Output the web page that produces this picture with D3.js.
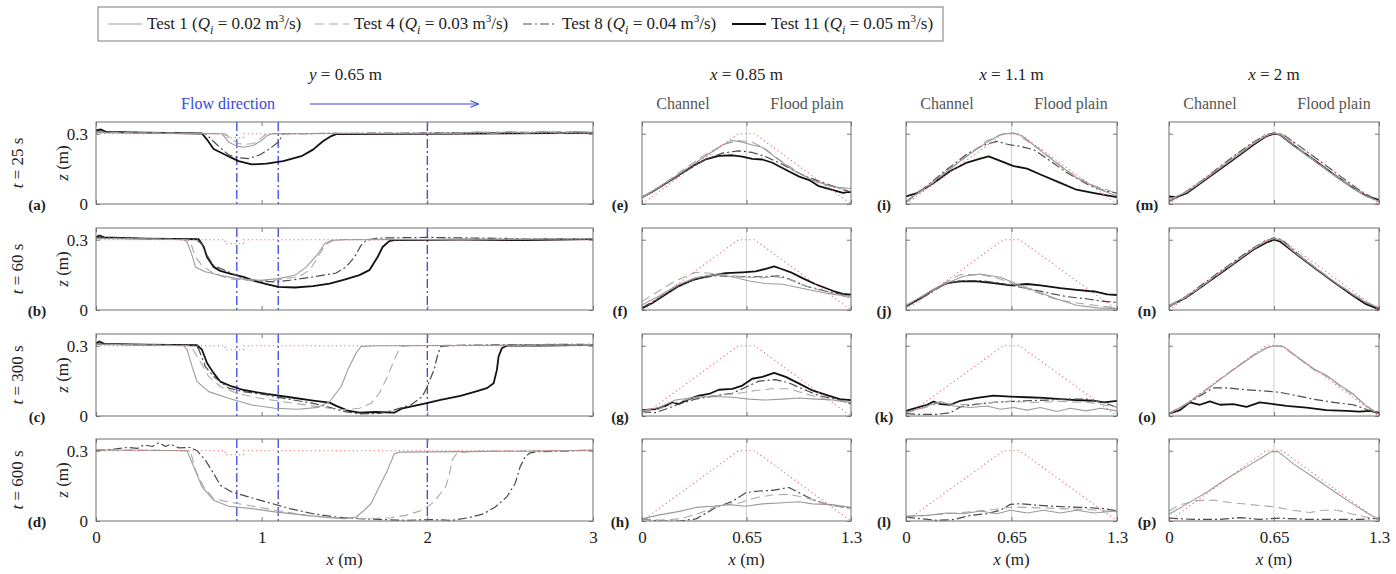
<!DOCTYPE html>
<html>
<head>
<meta charset="utf-8">
<script src="https://cdn.jsdelivr.net/npm/d3@7"></script>
<style>
body { margin: 0; background: #fff; }
text { font-family: "Liberation Serif", "Times New Roman", serif; }
</style>
</head>
<body>
<svg id="chart" width="1396" height="574"></svg>
<script>
// tests, times and sections
const testNames = ["Test 1", "Test 4", "Test 8", "Test 11"];
const testQ = [0.02, 0.03, 0.04, 0.05];
const times = [25, 60, 300, 600];
const sectionX = [0.85, 1.1, 2];
const longTicks = [0, 1, 2, 3];
const crossTicks = [0, 0.65, 1.3];
const zTicks = [0, 0.3];

// initial bed profiles
const initLong = [[0,0.3],[0.78,0.3],[0.78,0.283],[0.89,0.283],[0.89,0.3],[3,0.3]];
const initCross = [[0,0],[0.6,0.3],[0.7,0.3],[1.3,0]];

// longitudinal profiles, y = 0.65 m
const a_t1 = [[0,0.305],[0.1,0.303],[0.4,0.302],[0.76,0.3],[0.8,0.265],[0.85,0.247],[0.89,0.242],[0.95,0.25],[1.0,0.272],[1.03,0.29],[1.06,0.3],[1.5,0.301],[2.0,0.3],[2.2,0.302],[2.3,0.308],[2.4,0.301],[2.5,0.309],[2.6,0.302],[2.7,0.31],[2.8,0.302],[2.9,0.309],[3,0.306]];
const a_t4 = [[0,0.306],[0.4,0.303],[0.78,0.3],[0.82,0.275],[0.86,0.258],[0.9,0.254],[0.95,0.258],[0.99,0.278],[1.02,0.295],[1.05,0.3],[1.5,0.302],[2.2,0.303],[2.4,0.307],[2.6,0.305],[2.8,0.309],[3,0.306]];
const a_t8 = [[0,0.308],[0.3,0.304],[0.66,0.301],[0.69,0.28],[0.75,0.24],[0.8,0.21],[0.86,0.197],[0.92,0.194],[0.99,0.21],[1.04,0.232],[1.09,0.258],[1.11,0.275],[1.13,0.3],[1.6,0.302],[2.2,0.304],[2.6,0.306],[3,0.305]];
const a_t11 = [[0,0.314],[0.03,0.318],[0.06,0.308],[0.3,0.305],[0.64,0.301],[0.67,0.275],[0.71,0.235],[0.78,0.21],[0.82,0.197],[0.86,0.183],[0.94,0.169],[1.03,0.172],[1.13,0.183],[1.24,0.204],[1.31,0.232],[1.37,0.268],[1.42,0.29],[1.45,0.298],[2.0,0.299],[2.5,0.302],[3,0.304]];

const b_t1 = [[0,0.305],[0.3,0.303],[0.53,0.3],[0.55,0.29],[0.58,0.233],[0.6,0.184],[0.66,0.163],[0.75,0.148],[0.85,0.134],[0.99,0.127],[1.1,0.134],[1.2,0.148],[1.27,0.184],[1.34,0.24],[1.38,0.283],[1.42,0.297],[1.5,0.3],[2.0,0.301],[2.5,0.302],[3,0.304]];
const b_t4 = [[0,0.306],[0.3,0.303],[0.55,0.3],[0.57,0.29],[0.6,0.226],[0.64,0.19],[0.71,0.156],[0.8,0.134],[0.94,0.124],[1.08,0.127],[1.22,0.141],[1.29,0.17],[1.34,0.226],[1.38,0.276],[1.43,0.297],[1.5,0.301],[2.0,0.302],[3,0.305]];
const b_t8 = [[0,0.31],[0.3,0.305],[0.6,0.302],[0.64,0.283],[0.67,0.233],[0.71,0.19],[0.8,0.163],[0.89,0.134],[0.99,0.123],[1.08,0.12],[1.17,0.127],[1.31,0.141],[1.45,0.158],[1.51,0.184],[1.56,0.226],[1.6,0.276],[1.63,0.297],[1.7,0.307],[2.0,0.31],[2.3,0.307],[2.6,0.304],[3,0.305]];
const b_t11 = [[0,0.31],[0.02,0.318],[0.05,0.31],[0.3,0.305],[0.62,0.302],[0.65,0.27],[0.67,0.226],[0.71,0.184],[0.75,0.167],[0.82,0.153],[0.89,0.141],[0.96,0.123],[1.03,0.11],[1.1,0.099],[1.2,0.096],[1.31,0.102],[1.41,0.113],[1.5,0.13],[1.59,0.149],[1.65,0.17],[1.7,0.226],[1.73,0.269],[1.77,0.294],[1.8,0.298],[2.2,0.3],[2.6,0.298],[3,0.303]];

const c_t1 = [[0,0.305],[0.3,0.303],[0.53,0.3],[0.55,0.283],[0.58,0.211],[0.61,0.147],[0.68,0.104],[0.8,0.076],[0.94,0.047],[1.08,0.033],[1.22,0.029],[1.34,0.037],[1.41,0.061],[1.48,0.126],[1.52,0.197],[1.57,0.269],[1.6,0.297],[1.7,0.3],[2.2,0.301],[3,0.303]];
const c_t4 = [[0,0.306],[0.3,0.303],[0.56,0.3],[0.58,0.29],[0.64,0.219],[0.68,0.169],[0.75,0.126],[0.85,0.097],[0.99,0.076],[1.13,0.061],[1.27,0.047],[1.41,0.033],[1.5,0.026],[1.59,0.033],[1.66,0.054],[1.71,0.097],[1.76,0.169],[1.8,0.24],[1.84,0.297],[1.9,0.301],[2.5,0.302],[3,0.304]];
const c_t8 = [[0,0.308],[0.3,0.304],[0.6,0.302],[0.62,0.285],[0.66,0.211],[0.71,0.169],[0.8,0.119],[0.89,0.104],[1.03,0.09],[1.17,0.071],[1.31,0.054],[1.41,0.037],[1.5,0.019],[1.59,0.009],[1.71,0.011],[1.8,0.026],[1.9,0.047],[1.97,0.083],[2.0,0.126],[2.04,0.197],[2.06,0.254],[2.08,0.297],[2.2,0.302],[2.6,0.305],[3,0.306]];
const c_t11 = [[0,0.31],[0.02,0.318],[0.05,0.308],[0.3,0.305],[0.61,0.302],[0.64,0.283],[0.67,0.226],[0.71,0.183],[0.75,0.147],[0.82,0.126],[0.89,0.111],[1.03,0.094],[1.17,0.08],[1.31,0.066],[1.41,0.057],[1.45,0.043],[1.52,0.023],[1.59,0.014],[1.69,0.017],[1.8,0.014],[1.85,0.033],[1.92,0.043],[1.99,0.054],[2.08,0.069],[2.2,0.086],[2.29,0.104],[2.36,0.119],[2.4,0.14],[2.42,0.197],[2.43,0.254],[2.45,0.29],[2.48,0.3],[2.7,0.301],[3,0.304]];

const d_t1 = [[0,0.303],[0.3,0.302],[0.55,0.3],[0.59,0.231],[0.64,0.146],[0.71,0.089],[0.8,0.063],[0.94,0.053],[1.08,0.039],[1.27,0.024],[1.41,0.014],[1.5,0.01],[1.57,0.017],[1.62,0.046],[1.66,0.074],[1.71,0.146],[1.76,0.217],[1.8,0.286],[1.83,0.294],[2.2,0.296],[2.6,0.298],[3,0.302]];
const d_t4 = [[0,0.304],[0.3,0.302],[0.57,0.3],[0.6,0.217],[0.65,0.146],[0.71,0.096],[0.8,0.081],[0.92,0.067],[1.08,0.046],[1.27,0.024],[1.45,0.014],[1.64,0.01],[1.78,0.014],[1.87,0.024],[1.97,0.046],[2.04,0.081],[2.11,0.146],[2.13,0.189],[2.15,0.26],[2.18,0.291],[2.3,0.298],[2.6,0.299],[3,0.302]];
const d_t8 = [[0,0.3],[0.1,0.306],[0.19,0.314],[0.25,0.31],[0.29,0.325],[0.34,0.318],[0.38,0.334],[0.42,0.318],[0.45,0.328],[0.5,0.312],[0.57,0.314],[0.61,0.3],[0.66,0.26],[0.71,0.203],[0.75,0.153],[0.82,0.124],[0.92,0.103],[1.03,0.081],[1.17,0.053],[1.31,0.031],[1.45,0.017],[1.59,0.01],[1.73,0.006],[1.87,0.003],[2.01,0.006],[2.15,0.003],[2.25,0.014],[2.34,0.031],[2.41,0.06],[2.48,0.103],[2.53,0.16],[2.56,0.231],[2.59,0.274],[2.62,0.291],[2.67,0.296],[3,0.302]];

// cross sections, x = 0.85 m
const e_t1 = [[0,0.026],[0.146,0.088],[0.27,0.146],[0.395,0.205],[0.5,0.252],[0.562,0.271],[0.624,0.264],[0.686,0.252],[0.749,0.242],[0.832,0.198],[0.936,0.146],[1.06,0.102],[1.19,0.073],[1.3,0.066]];
const e_t4 = [[0,0.029],[0.146,0.091],[0.27,0.154],[0.395,0.212],[0.52,0.256],[0.6,0.271],[0.686,0.264],[0.77,0.234],[0.853,0.19],[0.978,0.132],[1.1,0.088],[1.23,0.066],[1.3,0.059]];
const e_t8 = [[0,0.026],[0.146,0.085],[0.27,0.139],[0.395,0.19],[0.5,0.217],[0.6,0.227],[0.686,0.22],[0.77,0.202],[0.853,0.176],[0.936,0.146],[1.02,0.117],[1.14,0.088],[1.23,0.066],[1.3,0.051]];
const e_t11 = [[0,0.029],[0.062,0.051],[0.146,0.088],[0.229,0.124],[0.312,0.161],[0.395,0.19],[0.478,0.205],[0.562,0.208],[0.624,0.202],[0.686,0.193],[0.749,0.19],[0.811,0.176],[0.894,0.146],[0.978,0.117],[1.04,0.102],[1.1,0.076],[1.19,0.059],[1.25,0.047],[1.28,0.051],[1.3,0.051]];

const f_t1 = [[0,0.022],[0.104,0.059],[0.208,0.102],[0.333,0.139],[0.458,0.151],[0.562,0.142],[0.666,0.124],[0.77,0.113],[0.874,0.11],[0.957,0.098],[1.06,0.083],[1.19,0.066],[1.3,0.059]];
const f_t4 = [[0,0.037],[0.104,0.081],[0.208,0.124],[0.333,0.161],[0.416,0.157],[0.52,0.151],[0.624,0.142],[0.728,0.136],[0.832,0.142],[0.915,0.132],[1.02,0.102],[1.14,0.078],[1.3,0.051]];
const f_t8 = [[0,0.01],[0.104,0.051],[0.208,0.095],[0.333,0.132],[0.458,0.146],[0.562,0.142],[0.666,0.142],[0.77,0.142],[0.853,0.146],[0.915,0.132],[1.02,0.102],[1.14,0.081],[1.3,0.059]];
const f_t11 = [[0,0.007],[0.062,0.029],[0.146,0.066],[0.229,0.102],[0.312,0.127],[0.416,0.146],[0.52,0.157],[0.624,0.161],[0.707,0.165],[0.77,0.176],[0.822,0.186],[0.864,0.176],[0.926,0.161],[0.998,0.136],[1.08,0.11],[1.19,0.081],[1.25,0.069],[1.3,0.066]];

const g_t1 = [[0,0.022],[0.104,0.036],[0.208,0.068],[0.333,0.08],[0.458,0.083],[0.562,0.08],[0.666,0.072],[0.77,0.068],[0.874,0.072],[0.978,0.077],[1.08,0.072],[1.19,0.068],[1.3,0.058]];
const g_t4 = [[0,0.022],[0.104,0.029],[0.208,0.058],[0.333,0.08],[0.458,0.087],[0.603,0.097],[0.707,0.109],[0.811,0.116],[0.915,0.116],[1.02,0.094],[1.14,0.072],[1.3,0.058]];
const g_t8 = [[0,0.019],[0.083,0.014],[0.146,0.029],[0.229,0.051],[0.333,0.072],[0.458,0.087],[0.562,0.097],[0.645,0.123],[0.728,0.149],[0.832,0.155],[0.915,0.141],[0.998,0.116],[1.1,0.087],[1.23,0.068],[1.3,0.051]];
const g_t11 = [[0,0.025],[0.083,0.029],[0.146,0.043],[0.187,0.058],[0.229,0.051],[0.291,0.072],[0.354,0.087],[0.416,0.094],[0.478,0.112],[0.562,0.116],[0.624,0.13],[0.686,0.159],[0.749,0.167],[0.822,0.184],[0.894,0.167],[0.978,0.138],[1.06,0.109],[1.14,0.091],[1.23,0.072],[1.3,0.068]];

const h_t1 = [[0,0.009],[0.109,0.026],[0.233,0.041],[0.336,0.058],[0.44,0.063],[0.543,0.07],[0.646,0.063],[0.749,0.073],[0.852,0.077],[0.976,0.082],[1.06,0.073],[1.18,0.07],[1.3,0.058]];
const h_t4 = [[0,0.009],[0.109,0.004],[0.233,0.009],[0.357,0.033],[0.48,0.067],[0.604,0.077],[0.708,0.099],[0.811,0.111],[0.914,0.114],[1.02,0.099],[1.14,0.073],[1.3,0.052]];
const h_t8 = [[0,0.009],[0.109,0],[0.233,0],[0.336,0.009],[0.398,0.033],[0.46,0.058],[0.563,0.084],[0.646,0.121],[0.728,0.128],[0.811,0.131],[0.914,0.143],[0.976,0.121],[1.06,0.092],[1.14,0.073],[1.22,0.063],[1.3,0.055]];

// cross sections, x = 1.1 m
const i_t1 = [[0,0.01],[0.13,0.075],[0.253,0.141],[0.376,0.206],[0.5,0.264],[0.58,0.296],[0.663,0.304],[0.725,0.286],[0.828,0.228],[0.951,0.162],[1.05,0.112],[1.16,0.075],[1.24,0.049],[1.3,0.035]];
const i_t4 = [[0,0.006],[0.13,0.072],[0.253,0.138],[0.376,0.204],[0.5,0.271],[0.6,0.3],[0.68,0.3],[0.828,0.232],[0.951,0.165],[1.05,0.115],[1.16,0.078],[1.3,0.046]];
const i_t8 = [[0,0.01],[0.13,0.078],[0.253,0.148],[0.376,0.213],[0.479,0.252],[0.56,0.267],[0.643,0.252],[0.705,0.246],[0.787,0.232],[0.889,0.184],[0.992,0.133],[1.12,0.083],[1.22,0.057],[1.3,0.046]];
const i_t11 = [[0,0.032],[0.068,0.046],[0.17,0.09],[0.273,0.141],[0.376,0.177],[0.458,0.194],[0.509,0.203],[0.581,0.184],[0.663,0.162],[0.746,0.151],[0.828,0.126],[0.951,0.09],[1.05,0.061],[1.16,0.046],[1.3,0.029]];

const j_t1 = [[0,0.02],[0.13,0.071],[0.253,0.115],[0.355,0.144],[0.458,0.154],[0.581,0.14],[0.684,0.111],[0.807,0.079],[0.93,0.047],[1.05,0.02],[1.18,0.009],[1.3,0.006]];
const j_t4 = [[0,0.02],[0.13,0.071],[0.253,0.122],[0.335,0.151],[0.458,0.151],[0.56,0.137],[0.663,0.111],[0.787,0.079],[0.91,0.049],[1.03,0.032],[1.16,0.02],[1.3,0.009]];
const j_t8 = [[0,0.013],[0.13,0.064],[0.232,0.108],[0.335,0.125],[0.458,0.125],[0.581,0.115],[0.684,0.1],[0.787,0.086],[0.889,0.071],[0.992,0.057],[1.12,0.047],[1.2,0.038],[1.3,0.032]];
const j_t11 = [[0,0.017],[0.088,0.049],[0.17,0.086],[0.253,0.115],[0.335,0.122],[0.437,0.122],[0.54,0.115],[0.643,0.105],[0.746,0.111],[0.828,0.105],[0.951,0.093],[1.05,0.086],[1.16,0.079],[1.24,0.067],[1.3,0.064]];

const k_t1 = [[0,0.014],[0.13,0.043],[0.212,0.062],[0.294,0.043],[0.396,0.036],[0.499,0.043],[0.581,0.029],[0.663,0.036],[0.746,0.025],[0.828,0.036],[0.93,0.019],[1.01,0.033],[1.11,0.022],[1.2,0.033],[1.3,0.022]];
const k_t4 = [[0,0.014],[0.13,0.039],[0.212,0.058],[0.314,0.048],[0.417,0.051],[0.54,0.058],[0.643,0.062],[0.787,0.058],[0.951,0.062],[1.12,0.058],[1.3,0.039]];
const k_t8 = [[0,0.01],[0.088,0.007],[0.191,0.007],[0.273,0.014],[0.335,0.039],[0.437,0.051],[0.54,0.058],[0.643,0.062],[0.746,0.065],[0.869,0.068],[0.992,0.072],[1.11,0.072],[1.22,0.058],[1.3,0.036]];
const k_t11 = [[0,0.022],[0.068,0.036],[0.13,0.048],[0.17,0.062],[0.212,0.051],[0.273,0.048],[0.335,0.065],[0.437,0.077],[0.54,0.087],[0.643,0.083],[0.746,0.08],[0.848,0.077],[0.951,0.072],[1.05,0.068],[1.16,0.065],[1.22,0.058],[1.3,0.065]];

const l_t1 = [[0,0.02],[0.13,0.024],[0.253,0.034],[0.355,0.031],[0.458,0.043],[0.56,0.031],[0.643,0.046],[0.746,0.034],[0.848,0.046],[0.951,0.034],[1.05,0.046],[1.16,0.034],[1.3,0.043]];
const l_t4 = [[0,0.02],[0.13,0.024],[0.253,0.031],[0.396,0.039],[0.54,0.049],[0.663,0.06],[0.787,0.057],[0.951,0.053],[1.12,0.049],[1.3,0.039]];
const l_t8 = [[0,0.017],[0.088,0.01],[0.191,0.003],[0.294,0.006],[0.396,0.024],[0.499,0.031],[0.581,0.046],[0.643,0.071],[0.705,0.074],[0.807,0.067],[0.91,0.063],[1.01,0.06],[1.12,0.057],[1.22,0.053],[1.3,0.043]];

// cross sections, x = 2 m
const m_t1 = [[0,0.02],[0.109,0.05],[0.212,0.1],[0.315,0.152],[0.418,0.204],[0.521,0.256],[0.604,0.292],[0.65,0.302],[0.686,0.297],[0.768,0.25],[0.892,0.188],[1.02,0.124],[1.14,0.066],[1.22,0.033],[1.3,0.012]];
const m_t4 = [[0,0.015],[0.109,0.052],[0.212,0.102],[0.315,0.154],[0.418,0.207],[0.521,0.259],[0.604,0.293],[0.65,0.303],[0.7,0.296],[0.79,0.245],[0.9,0.186],[1.02,0.125],[1.14,0.07],[1.22,0.036],[1.3,0.008]];
const m_t8 = [[0,0.01],[0.109,0.054],[0.212,0.104],[0.315,0.159],[0.418,0.213],[0.521,0.264],[0.604,0.296],[0.65,0.304],[0.707,0.296],[0.81,0.246],[0.933,0.184],[1.06,0.119],[1.18,0.058],[1.3,0.01]];
const m_t11 = [[0,0.032],[0.047,0.029],[0.109,0.046],[0.212,0.097],[0.315,0.148],[0.418,0.199],[0.521,0.252],[0.604,0.29],[0.65,0.3],[0.686,0.296],[0.768,0.252],[0.892,0.191],[1.02,0.126],[1.14,0.068],[1.22,0.035],[1.3,0.017]];

const n_t1 = [[0,0.02],[0.109,0.058],[0.212,0.108],[0.315,0.16],[0.418,0.21],[0.521,0.26],[0.604,0.294],[0.65,0.305],[0.69,0.298],[0.77,0.25],[0.9,0.182],[1.02,0.122],[1.14,0.066],[1.22,0.032],[1.3,0.01]];
const n_t4 = [[0,0.015],[0.109,0.056],[0.212,0.106],[0.315,0.158],[0.418,0.209],[0.521,0.262],[0.604,0.295],[0.65,0.306],[0.7,0.297],[0.78,0.248],[0.9,0.186],[1.02,0.123],[1.14,0.068],[1.22,0.035],[1.3,0.008]];
const n_t8 = [[0,0.012],[0.109,0.06],[0.212,0.112],[0.315,0.164],[0.418,0.215],[0.521,0.265],[0.604,0.297],[0.65,0.308],[0.7,0.3],[0.79,0.245],[0.9,0.183],[1.02,0.12],[1.14,0.062],[1.22,0.03],[1.3,0.006]];
const n_t11 = [[0,0.017],[0.109,0.054],[0.212,0.104],[0.315,0.155],[0.418,0.206],[0.521,0.257],[0.604,0.288],[0.65,0.3],[0.686,0.293],[0.768,0.249],[0.892,0.184],[1.02,0.119],[1.14,0.061],[1.22,0.025],[1.3,0.003]];

const o_t1 = [[0,0.01],[0.109,0.051],[0.212,0.101],[0.315,0.155],[0.418,0.207],[0.521,0.257],[0.604,0.29],[0.65,0.3],[0.707,0.297],[0.79,0.254],[0.892,0.203],[0.974,0.174],[1.06,0.13],[1.14,0.094],[1.22,0.043],[1.3,0.007]];
const o_t4 = [[0,0.012],[0.109,0.053],[0.212,0.103],[0.315,0.157],[0.418,0.209],[0.521,0.259],[0.604,0.291],[0.65,0.299],[0.707,0.296],[0.79,0.252],[0.892,0.2],[0.974,0.17],[1.06,0.128],[1.14,0.09],[1.22,0.045],[1.3,0.008]];
const o_t8 = [[0,0.01],[0.109,0.051],[0.212,0.094],[0.274,0.12],[0.356,0.12],[0.48,0.112],[0.604,0.106],[0.686,0.101],[0.789,0.087],[0.892,0.072],[1.02,0.058],[1.14,0.048],[1.22,0.029],[1.3,0.007]];
const o_t11 = [[0,0.01],[0.068,0.025],[0.13,0.058],[0.191,0.048],[0.253,0.062],[0.315,0.048],[0.398,0.051],[0.48,0.039],[0.562,0.058],[0.645,0.051],[0.727,0.043],[0.851,0.036],[0.974,0.025],[1.1,0.022],[1.18,0.019],[1.24,0.022],[1.3,0.014]];

const p_t1 = [[0,0.029],[0.109,0.072],[0.233,0.123],[0.357,0.18],[0.48,0.231],[0.583,0.274],[0.635,0.296],[0.676,0.296],[0.768,0.245],[0.892,0.188],[1.02,0.127],[1.14,0.072],[1.24,0.029],[1.3,0.007]];
const p_t4 = [[0,0.043],[0.068,0.069],[0.171,0.087],[0.274,0.089],[0.377,0.079],[0.521,0.069],[0.645,0.061],[0.768,0.046],[0.871,0.036],[0.954,0.046],[1.04,0.046],[1.14,0.029],[1.22,0.017],[1.3,0.007]];
const p_t8 = [[0,0.012],[0.15,0.007],[0.315,0.007],[0.439,0.014],[0.562,0.007],[0.686,0.012],[0.851,0.007],[1.02,0.007],[1.18,0.007],[1.3,0.012]];

const longPanels = [
  {label: "(a)", series: [a_t1, a_t4, a_t8, a_t11]},
  {label: "(b)", series: [b_t1, b_t4, b_t8, b_t11]},
  {label: "(c)", series: [c_t1, c_t4, c_t8, c_t11]},
  {label: "(d)", series: [d_t1, d_t4, d_t8, null]}
];
const crossPanels = [
  [{label: "(e)", series: [e_t1, e_t4, e_t8, e_t11]},
   {label: "(f)", series: [f_t1, f_t4, f_t8, f_t11]},
   {label: "(g)", series: [g_t1, g_t4, g_t8, g_t11]},
   {label: "(h)", series: [h_t1, h_t4, h_t8, null]}],
  [{label: "(i)", series: [i_t1, i_t4, i_t8, i_t11]},
   {label: "(j)", series: [j_t1, j_t4, j_t8, j_t11]},
   {label: "(k)", series: [k_t1, k_t4, k_t8, k_t11]},
   {label: "(l)", series: [l_t1, l_t4, l_t8, null]}],
  [{label: "(m)", series: [m_t1, m_t4, m_t8, m_t11]},
   {label: "(n)", series: [n_t1, n_t4, n_t8, n_t11]},
   {label: "(o)", series: [o_t1, o_t4, o_t8, o_t11]},
   {label: "(p)", series: [p_t1, p_t4, p_t8, null]}]
];

// layout
const rowTop = [122, 228, 334, 439];
const rowH = 82;
const longRange = [96, 593];
const crossRange = [[642, 851], [906, 1117], [1169, 1379]];

const seriesStyle = [
  {stroke: "#9b9b9b", width: 1.1, dash: null},
  {stroke: "#a9a9a9", width: 1.1, dash: "9,5"},
  {stroke: "#4a4a4a", width: 1.2, dash: "9,3,2,3"},
  {stroke: "#111", width: 1.8, dash: null}
];
const drawOrder = [3, 2, 1, 0];

const svg = d3.select("#chart");
const fontSize = 16;

function addLine(g, data, x, y, st) {
  const line = d3.line().x(d => x(d[0])).y(d => y(d[1]));
  g.append("path")
    .datum(data)
    .attr("d", line)
    .attr("fill", "none")
    .attr("stroke", st.stroke)
    .attr("stroke-width", st.width)
    .attr("stroke-dasharray", st.dash)
    .attr("stroke-linejoin", "round");
}

let clipId = 0;
function drawPanel(x, top, panel, isLong, showX) {
  const y = d3.scaleLinear().domain([0, 0.35]).range([top + rowH, top]);
  const [x0, x1] = x.range();
  const g = svg.append("g");
  const id = "clip" + (clipId++);
  svg.append("clipPath").attr("id", id)
    .append("rect").attr("x", x0).attr("y", top).attr("width", x1 - x0).attr("height", rowH);

  const plot = g.append("g").attr("clip-path", `url(#${id})`);

  if (isLong) {
    sectionX.forEach(s => {
      plot.append("line")
        .attr("x1", x(s)).attr("x2", x(s))
        .attr("y1", top).attr("y2", top + rowH)
        .attr("stroke", "#3848e0").attr("stroke-width", 1.3)
        .attr("stroke-dasharray", "9,3,2,3");
    });
  } else {
    plot.append("line")
      .attr("x1", x(0.65)).attr("x2", x(0.65))
      .attr("y1", top).attr("y2", top + rowH)
      .attr("stroke", "#cfcfcf").attr("stroke-width", 1);
  }

  drawOrder.forEach(k => {
    if (panel.series[k]) addLine(plot, panel.series[k], x, y, seriesStyle[k]);
  });
  addLine(plot, isLong ? initLong : initCross, x, y, {stroke: "#ec6a70", width: 1.1, dash: "1.2,3"});

  // axes, ticks pointing inward
  const xt = isLong ? longTicks : crossTicks;
  g.append("g")
    .attr("transform", `translate(0,${top + rowH})`)
    .call(d3.axisBottom(x).tickValues(xt).tickSize(-4).tickSizeOuter(0).tickPadding(10)
      .tickFormat(showX ? d => d : () => ""));
  g.append("g")
    .attr("transform", `translate(0,${top})`)
    .call(d3.axisTop(x).tickValues(xt).tickSize(-4).tickSizeOuter(0).tickFormat(() => ""));
  g.append("g")
    .attr("transform", `translate(${x0},0)`)
    .call(d3.axisLeft(y).tickValues(zTicks).tickSize(-4).tickSizeOuter(0).tickPadding(8)
      .tickFormat(isLong ? d => d : () => ""));
  g.append("g")
    .attr("transform", `translate(${x1},0)`)
    .call(d3.axisRight(y).tickValues(zTicks).tickSize(-4).tickSizeOuter(0).tickFormat(() => ""));

  g.selectAll(".domain").remove();
  g.selectAll(".tick line").attr("stroke", "#777");
  g.selectAll(".tick text")
    .attr("font-family", "Liberation Serif, serif")
    .attr("font-size", 17)
    .attr("fill", "#222");

  g.append("rect")
    .attr("x", x0).attr("y", top)
    .attr("width", x1 - x0).attr("height", rowH)
    .attr("fill", "none").attr("stroke", "#6f6f6f").attr("stroke-width", 1);

  g.append("text")
    .attr("x", isLong ? 37 : x0 - 22)
    .attr("y", top + rowH + 6)
    .attr("text-anchor", "middle")
    .attr("font-size", 15)
    .attr("font-weight", "bold")
    .attr("fill", "#222")
    .text(panel.label);
}

// longitudinal column
const longX = d3.scaleLinear().domain([0, 3]).range(longRange);
longPanels.forEach((p, r) => {
  drawPanel(longX, rowTop[r], p, true, r === 3);
  const cy = rowTop[r] + rowH / 2;
  const tl = svg.append("text")
    .attr("transform", `translate(23,${cy}) rotate(-90)`)
    .attr("text-anchor", "middle")
    .attr("font-size", 17).attr("fill", "#222");
  tl.append("tspan").attr("font-style", "italic").text("t");
  tl.append("tspan").text(` = ${times[r]} s`);
  const zl = svg.append("text")
    .attr("transform", `translate(68,${cy}) rotate(-90)`)
    .attr("text-anchor", "middle")
    .attr("font-size", 17).attr("fill", "#222");
  zl.append("tspan").attr("font-style", "italic").text("z");
  zl.append("tspan").text(" (m)");
});

// cross-section columns
crossPanels.forEach((col, c) => {
  const x = d3.scaleLinear().domain([0, 1.3]).range(crossRange[c]);
  col.forEach((p, r) => drawPanel(x, rowTop[r], p, false, r === 3));
});

// column titles
function title(cx, cy, italicPart, rest) {
  const t = svg.append("text")
    .attr("x", cx).attr("y", cy)
    .attr("text-anchor", "middle")
    .attr("font-size", 17).attr("fill", "#222");
  t.append("tspan").attr("font-style", "italic").text(italicPart);
  t.append("tspan").text(rest);
}
title((longRange[0] + longRange[1]) / 2 + 1, 80, "y", " = 0.65 m");
crossRange.forEach((r, c) => {
  const cx = (r[0] + r[1]) / 2;
  title(cx, 80, "x", ` = ${sectionX[c]} m`);
  svg.append("text").attr("x", r[0] + 41).attr("y", 109)
    .attr("text-anchor", "middle").attr("font-size", 16).attr("fill", "#555").text("Channel");
  svg.append("text").attr("x", r[0] + 165).attr("y", 109)
    .attr("text-anchor", "middle").attr("font-size", 16).attr("fill", "#555").text("Flood plain");
  title(cx, 565, "x", " (m)");
});
title((longRange[0] + longRange[1]) / 2, 565, "x", " (m)");

// flow direction arrow
svg.append("defs").append("marker")
  .attr("id", "arrow").attr("viewBox", "0 0 10 10")
  .attr("refX", 9).attr("refY", 5)
  .attr("markerWidth", 7).attr("markerHeight", 7)
  .attr("orient", "auto")
  .append("path").attr("d", "M0,1 L10,5 L0,9").attr("fill", "none")
  .attr("stroke", "#3848e0").attr("stroke-width", 1.3);
svg.append("text").attr("x", 228).attr("y", 109)
  .attr("text-anchor", "middle").attr("font-size", 16).attr("fill", "#3848e0")
  .text("Flow direction");
svg.append("line")
  .attr("x1", 310).attr("x2", 478).attr("y1", 104).attr("y2", 104)
  .attr("stroke", "#3848e0").attr("stroke-width", 1.2)
  .attr("marker-end", "url(#arrow)");

// legend
const legend = svg.append("g");
legend.append("rect")
  .attr("x", 98).attr("y", 7).attr("width", 845).attr("height", 34)
  .attr("fill", "#fff").attr("stroke", "#7a7a7a").attr("stroke-width", 1);
const legendX = [108, 315, 523, 732];
testNames.forEach((name, k) => {
  const lx = legendX[k];
  const st = seriesStyle[k];
  legend.append("line")
    .attr("x1", lx).attr("x2", lx + 34).attr("y1", 24).attr("y2", 24)
    .attr("stroke", st.stroke).attr("stroke-width", st.width)
    .attr("stroke-dasharray", st.dash);
  const t = legend.append("text")
    .attr("x", lx + 39).attr("y", 29)
    .attr("font-size", 17).attr("fill", "#222");
  t.append("tspan").text(`${name} (`);
  t.append("tspan").attr("font-style", "italic").text("Q");
  t.append("tspan").attr("font-style", "italic").attr("font-size", 12).attr("dy", 5).text("i");
  t.append("tspan").attr("dy", -5).text(` = ${testQ[k].toFixed(2)} m`);
  t.append("tspan").attr("font-size", 11).attr("dy", -7).text("3");
  t.append("tspan").attr("dy", 7).text("/s)");
});
</script>
</body>
</html>
